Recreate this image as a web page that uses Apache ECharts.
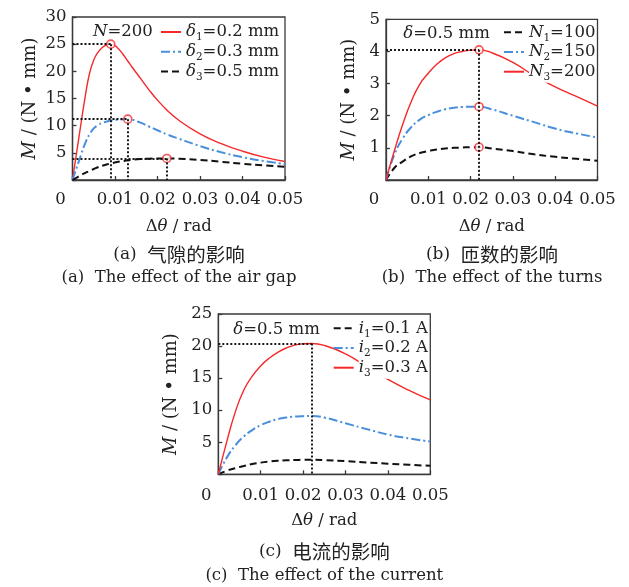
<!DOCTYPE html>
<html>
<head>
<meta charset="utf-8">
<script src="https://cdn.jsdelivr.net/npm/echarts@6/dist/echarts.min.js"></script>
<style>
html,body{margin:0;padding:0;background:#fff;}
#c{width:629px;height:587px;}
</style>
</head>
<body>
<div id="c"></div>
<script>
// ---------- data ----------
const thetaA = [0, 0.001, 0.002, 0.003, 0.004, 0.005, 0.006, 0.007, 0.008, 0.009, 0.0105, 0.012, 0.013, 0.014, 0.016, 0.018, 0.02, 0.0222, 0.025, 0.03, 0.035, 0.04, 0.045, 0.05];
const delta1 = [0, 5.2, 10.4, 15.4, 19.6, 22.1, 23.5, 24.4, 24.85, 25.0, 24.4, 23.0, 21.9, 20.8, 18.7, 16.6, 14.7, 12.9, 11.0, 8.5, 6.7, 5.3, 4.2, 3.4];
const delta2 = [0, 2.3, 4.6, 6.8, 8.4, 9.5, 10.1, 10.5, 10.75, 10.95, 11.1, 11.17, 11.2, 11.1, 10.55, 9.85, 9.15, 8.4, 7.6, 6.25, 5.1, 4.2, 3.5, 2.95];
const delta3 = [0, 0.45, 0.9, 1.3, 1.67, 2.02, 2.35, 2.62, 2.85, 3.05, 3.3, 3.5, 3.62, 3.72, 3.85, 3.92, 3.96, 3.97, 3.92, 3.7, 3.35, 2.98, 2.7, 2.45];
const peakThetaA = [0.009, 0.013, 0.0222];
const peakMA = [25.0, 11.2, 3.97];

const thetaB = [0, 0.002, 0.004, 0.006, 0.008, 0.01, 0.012, 0.014, 0.016, 0.018, 0.02, 0.022, 0.025, 0.03, 0.035, 0.04, 0.045, 0.05];
const turnsN1 = [0, 0.38, 0.58, 0.74, 0.84, 0.9, 0.95, 0.98, 1.0, 1.01, 1.02, 1.02, 0.98, 0.9, 0.8, 0.72, 0.66, 0.6];
const turnsN2 = [0, 0.8, 1.3, 1.65, 1.88, 2.02, 2.12, 2.2, 2.25, 2.27, 2.28, 2.28, 2.2, 2.0, 1.8, 1.6, 1.45, 1.32];
const turnsN3 = [0, 0.92, 1.75, 2.45, 2.98, 3.32, 3.6, 3.8, 3.93, 4.0, 4.04, 4.05, 3.96, 3.66, 3.25, 2.9, 2.6, 2.3];
const peakThetaB = [0.022, 0.022, 0.022];
const peakMB = [1.02, 2.28, 4.05];

const thetaC = [0, 0.002, 0.004, 0.006, 0.008, 0.01, 0.012, 0.014, 0.016, 0.018, 0.02, 0.022, 0.025, 0.03, 0.035, 0.04, 0.045, 0.05];
const currI1 = [0, 0.55, 0.95, 1.3, 1.6, 1.82, 1.98, 2.1, 2.18, 2.23, 2.26, 2.27, 2.22, 2.05, 1.85, 1.65, 1.48, 1.32];
const currI2 = [0, 2.6, 4.5, 5.9, 6.9, 7.65, 8.2, 8.6, 8.85, 9.0, 9.07, 9.1, 8.85, 7.95, 7.05, 6.2, 5.6, 5.1];
const currI3 = [0, 5.1, 9.7, 13.1, 15.3, 16.9, 18.1, 19.0, 19.7, 20.15, 20.35, 20.4, 20.1, 18.8, 16.8, 14.8, 13.1, 11.6];
const peakThetaC = [0.022];
const peakMC = [20.4];

const xTickLabels = ['0', '0.01', '0.02', '0.03', '0.04', '0.05'];
const yTicksA = ['', '5', '10', '15', '20', '25', '30'];
const yTicksB = ['', '1', '2', '3', '4', '5'];
const yTicksC = ['', '5', '10', '15', '20', '25'];

// ---------- style ----------
const SERIF = 'DejaVu Serif';
const CJK = 'Noto Sans CJK SC';
const FS = 16.5;
const RED = '#f5282a', BLUE = '#4a8fdc', BLACK = '#111111';
const AX = '#3a3a3a';

const chart = echarts.init(document.getElementById('c'), null, {renderer: 'canvas'});

const grids = [
  {left: 72.5, top: 17, width: 212.5, height: 163},
  {left: 386, top: 19.3, width: 211.5, height: 160.7},
  {left: 218.3, top: 314, width: 212, height: 160.3}
];

function xAxis(gi, nameGap, margin) {
  return {
    type: 'value', gridIndex: gi, min: 0, max: 0.05, interval: 0.01,
    axisLine: {show: true, lineStyle: {color: AX, width: 1.3}},
    axisTick: {show: true, inside: true, length: 4, lineStyle: {color: AX, width: 1.3}},
    splitLine: {show: false},
    axisLabel: {
      color: '#222', fontFamily: SERIF, fontSize: FS, margin: margin,
      formatter: (v, i) => i === 0 ? '{z|' + xTickLabels[0] + '}' : xTickLabels[i],
      rich: {z: {fontFamily: SERIF, fontSize: FS, color: '#222', padding: [0, 24, 0, 0]}}
    },
    name: 'Δ{i|θ} / rad', nameLocation: 'middle', nameGap: nameGap,
    nameTextStyle: {color: '#222', fontFamily: SERIF, fontSize: FS,
      rich: {i: {fontFamily: SERIF, fontSize: FS, fontStyle: 'italic', color: '#222'}}}
  };
}
function yAxis(gi, max, interval, labels, nameGap) {
  return {
    type: 'value', gridIndex: gi, min: 0, max: max, interval: interval,
    axisLine: {show: true, lineStyle: {color: AX, width: 1.3}},
    axisTick: {show: true, inside: true, length: 4, lineStyle: {color: AX, width: 1.3}},
    splitLine: {show: false},
    axisLabel: {color: '#222', fontFamily: SERIF, fontSize: FS, margin: 6,
      formatter: (v, i) => labels[i]},
    name: '{i|M} / (N • mm)', nameLocation: 'middle', nameGap: nameGap,
    nameTextStyle: {color: '#222', fontFamily: SERIF, fontSize: 18,
      rich: {i: {fontFamily: SERIF, fontSize: 18, fontStyle: 'italic', color: '#222'}}}
  };
}

function curve(name, gi, theta, vals, color, type, width) {
  return {
    name: name, type: 'line', xAxisIndex: gi, yAxisIndex: gi,
    data: theta.map((t, k) => [t, vals[k]]),
    smooth: 0.5, symbol: 'none', showSymbol: false,
    lineStyle: {color: color, type: type, width: width},
    itemStyle: {color: color},
    z: 2, animation: false
  };
}

const dotted = {color: BLACK, type: [2, 2], width: 1.9};
function peaks(name, gi, px, py, lines, showPts) {
  return {
    name: name, type: 'scatter', xAxisIndex: gi, yAxisIndex: gi,
    data: showPts ? px.map((x, k) => [x, py[k]]) : [],
    symbol: 'circle', symbolSize: 8,
    itemStyle: {color: '#fff', borderColor: RED, borderWidth: 1.6},
    z: 4, silent: true, animation: false,
    markLine: {silent: true, symbol: ['none', 'none'], label: {show: false},
      lineStyle: dotted, animation: false, data: lines}
  };
}

const linesA = [];
peakThetaA.forEach((x, k) => {
  linesA.push([{coord: [0, peakMA[k]]}, {coord: [x, peakMA[k]]}]);
  linesA.push([{coord: [x, peakMA[k]]}, {coord: [x, 0]}]);
});
const linesB = [
  [{coord: [0, peakMB[2]]}, {coord: [peakThetaB[2], peakMB[2]]}],
  [{coord: [peakThetaB[2], peakMB[2]]}, {coord: [peakThetaB[2], 0]}]
];
const linesC = [
  [{coord: [0, peakMC[0]]}, {coord: [peakThetaC[0], peakMC[0]]}],
  [{coord: [peakThetaC[0], peakMC[0]]}, {coord: [peakThetaC[0], 0]}]
];

const DASH = [7, 4];
const DASHDOT = [9, 3, 2, 3];

const legendNames = {
  d1: '{i|δ}{s|1}=0.2 mm', d2: '{i|δ}{s|2}=0.3 mm', d3: '{i|δ}{s|3}=0.5 mm',
  n1: '{i|N}{s|1}=100', n2: '{i|N}{s|2}=150', n3: '{i|N}{s|3}=200',
  c1: '{i|i}{s|1}=0.1 A', c2: '{i|i}{s|2}=0.2 A', c3: '{i|i}{s|3}=0.3 A'
};
const legendText = {
  fontFamily: SERIF, fontSize: FS, color: '#222', lineHeight: 22, backgroundColor: '#fff',
  rich: {
    i: {fontFamily: SERIF, fontSize: FS, fontStyle: 'italic', color: '#222', lineHeight: 22},
    s: {fontFamily: SERIF, fontSize: 10.5, color: '#222', lineHeight: 22, verticalAlign: 'bottom'}
  }
};
function legend(data, left, top) {
  return {
    data: data, orient: 'vertical', left: left, top: top, padding: 0,
    itemWidth: 20, itemHeight: 10, itemGap: -2.3,
    itemStyle: {color: 'rgba(0,0,0,0)', borderWidth: 0, opacity: 0},
    formatter: n => legendNames[n], textStyle: legendText,
    selectedMode: false
  };
}

function label(x, y, text, align) {
  return {
    type: 'text', silent: true,
    style: {
      x: x, y: y, text: text, align: align || 'left', verticalAlign: 'middle',
      font: FS + 'px "' + SERIF + '"', fill: '#222',
      rich: {
        i: {fontFamily: SERIF, fontSize: FS, fontStyle: 'italic', fill: '#222'},
        s: {fontFamily: SERIF, fontSize: 17, fill: '#222'},
        c: {fontFamily: CJK, fontSize: 19.5, fill: '#222'}
      }
    }
  };
}

const option = {
  animation: false,
  backgroundColor: '#fff',
  grid: grids.map(g => Object.assign({show: true, borderColor: AX, borderWidth: 1.3, backgroundColor: 'transparent'}, g)),
  xAxis: [xAxis(0, 38, 11), xAxis(1, 38, 11), xAxis(2, 38, 13)],
  yAxis: [yAxis(0, 30, 5, yTicksA, 33), yAxis(1, 5, 1, yTicksB, 28), yAxis(2, 25, 5, yTicksC, 38)],
  legend: [
    legend(['d1', 'd2', 'd3'], 160, 21),
    legend(['n1', 'n2', 'n3'], 503, 21.3),
    legend(['c1', 'c2', 'c3'], 332.7, 317.3)
  ],
  series: [
    curve('d1', 0, thetaA, delta1, RED, 'solid', 1.4),
    curve('d2', 0, thetaA, delta2, BLUE, DASHDOT, 2),
    curve('d3', 0, thetaA, delta3, BLACK, DASH, 2),
    peaks('pa', 0, peakThetaA, peakMA, linesA, true),
    curve('n1', 1, thetaB, turnsN1, BLACK, DASH, 2),
    curve('n2', 1, thetaB, turnsN2, BLUE, DASHDOT, 2),
    curve('n3', 1, thetaB, turnsN3, RED, 'solid', 1.4),
    peaks('pb', 1, peakThetaB, peakMB, linesB, true),
    curve('c1', 2, thetaC, currI1, BLACK, DASH, 2),
    curve('c2', 2, thetaC, currI2, BLUE, DASHDOT, 2),
    curve('c3', 2, thetaC, currI3, RED, 'solid', 1.4),
    peaks('pc', 2, peakThetaC, peakMC, linesC, false)
  ],
  graphic: [
    label(93, 32, '{i|N}=200'),
    label(403.3, 33.3, '{i|δ}=0.5 mm'),
    label(233.3, 329.3, '{i|δ}=0.5 mm'),
    label(179, 255, '{s|(a)}  {c|气隙的影响}', 'center'),
    label(179, 278, '(a)  The effect of the air gap', 'center'),
    label(492, 255, '{s|(b)}  {c|匝数的影响}', 'center'),
    label(492, 278, '(b)  The effect of the turns', 'center'),
    label(324.3, 552, '{s|(c)}  {c|电流的影响}', 'center'),
    label(324.3, 576, '(c)  The effect of the current', 'center')
  ]
};
chart.setOption(option);
</script>
</body>
</html>
